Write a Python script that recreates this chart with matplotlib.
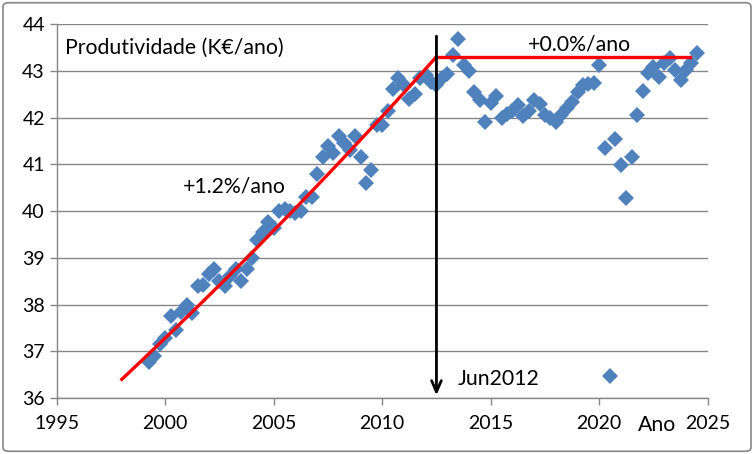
import matplotlib
matplotlib.use("Agg")
import matplotlib.pyplot as plt
import numpy as np
from matplotlib.patches import FancyBboxPatch

plt.rcParams['font.family'] = ['Lato', 'DejaVu Sans']

# Quarterly observations, 1999 Q2 .. 2024 Q3
start_year = 1999.25
productivity = [
    36.77, 36.90, 37.15, 37.28, 37.75, 37.45, 37.84, 38.00, 37.82, 38.40,
    38.42, 38.65, 38.75, 38.50, 38.40, 38.60, 38.75, 38.50, 38.75, 39.00,
    39.38, 39.55, 39.77, 39.63, 40.00, 40.05, 40.00, 39.95, 40.00, 40.30,
    40.30, 40.80, 41.15, 41.40, 41.25, 41.60, 41.45, 41.30, 41.60, 41.15,
    40.60, 40.88, 41.85, 41.85, 42.15, 42.60, 42.85, 42.70, 42.40, 42.50,
    42.84, 42.90, 42.75, 42.70, 42.84, 42.93, 43.33, 43.68, 43.12, 43.00,
    42.55, 42.37, 41.90, 42.30, 42.45, 42.00, 42.07, 42.15, 42.27, 42.03,
    42.15, 42.37, 42.29, 42.05, 42.00, 41.90, 42.05, 42.20, 42.33, 42.55,
    42.70, 42.72, 42.73, 43.12, 41.35, 36.47, 41.54, 40.98, 40.28, 41.15,
    42.05, 42.57, 42.95, 43.08, 42.87, 43.17, 43.27, 43.02, 42.80, 43.02,
    43.17, 43.38,
]
years = start_year + 0.25 * np.arange(len(productivity))

# Trend segments
trend1_years = [1998.0, 2012.5]
trend1_values = [36.40, 43.30]
trend2_years = [2012.5, 2024.2]
trend2_values = [43.30, 43.30]

break_year = 2012.5

fig = plt.figure(figsize=(7.54, 4.54), dpi=100)
ax = fig.add_axes([0.0752, 0.1233, 0.8634, 0.8238])

grid_c = '#868686'
ax.set_xlim(1995, 2025)
ax.set_ylim(36, 44)
ax.set_xticks(np.arange(1995, 2026, 5))
ax.set_yticks(np.arange(36, 45, 1))
ax.yaxis.grid(True, color=grid_c, linewidth=1.0)
ax.set_axisbelow(True)
for s in ['top', 'right']:
    ax.spines[s].set_visible(False)
for s in ['left', 'bottom']:
    ax.spines[s].set_color(grid_c)
    ax.spines[s].set_linewidth(1.0)
ax.tick_params(axis='both', colors=grid_c, labelcolor='black', labelsize=14,
               length=5, width=1.0, direction='out')
ax.tick_params(axis='x', pad=7)

ax.plot(years, productivity, linestyle='none', marker='D', markersize=8.5,
        color='#4F81BD', markeredgewidth=0, zorder=3)

# exponential trend 1
t = np.linspace(trend1_years[0], trend1_years[1], 100)
rate = np.log(trend1_values[1] / trend1_values[0]) / (trend1_years[1] - trend1_years[0])
ax.plot(t, trend1_values[0] * np.exp(rate * (t - trend1_years[0])), color='red', linewidth=2.4, zorder=4)
ax.plot(trend2_years, trend2_values, color='red', linewidth=2.4, zorder=4)

ax.annotate('', xy=(break_year, 36.0), xytext=(break_year, 43.8),
            arrowprops=dict(arrowstyle='->,head_length=0.8,head_width=0.35', color='black', lw=2.0),
            zorder=5)

fs = 15.3
ax.text(1995.4, 43.48, 'Produtividade (K€/ano)', fontsize=fs, va='center', ha='left')
ax.text(2000.8, 40.52, '+1.2%/ano', fontsize=fs, va='center', ha='left')
ax.text(2016.7, 43.57, '+0.0%/ano', fontsize=fs, va='center', ha='left')
ax.text(2013.5, 36.4, 'Jun2012', fontsize=fs, va='center', ha='left')
ax.text(2021.8, 35.43, 'Ano', fontsize=fs, va='center', ha='left')

border = FancyBboxPatch((0.004, 0.006), 0.992, 0.988, boxstyle='round,pad=0,rounding_size=0.008',
                        transform=fig.transFigure, fill=False, edgecolor='#868686', linewidth=1.2)
fig.patches.append(border)

fig.savefig('out.png', dpi=100)
